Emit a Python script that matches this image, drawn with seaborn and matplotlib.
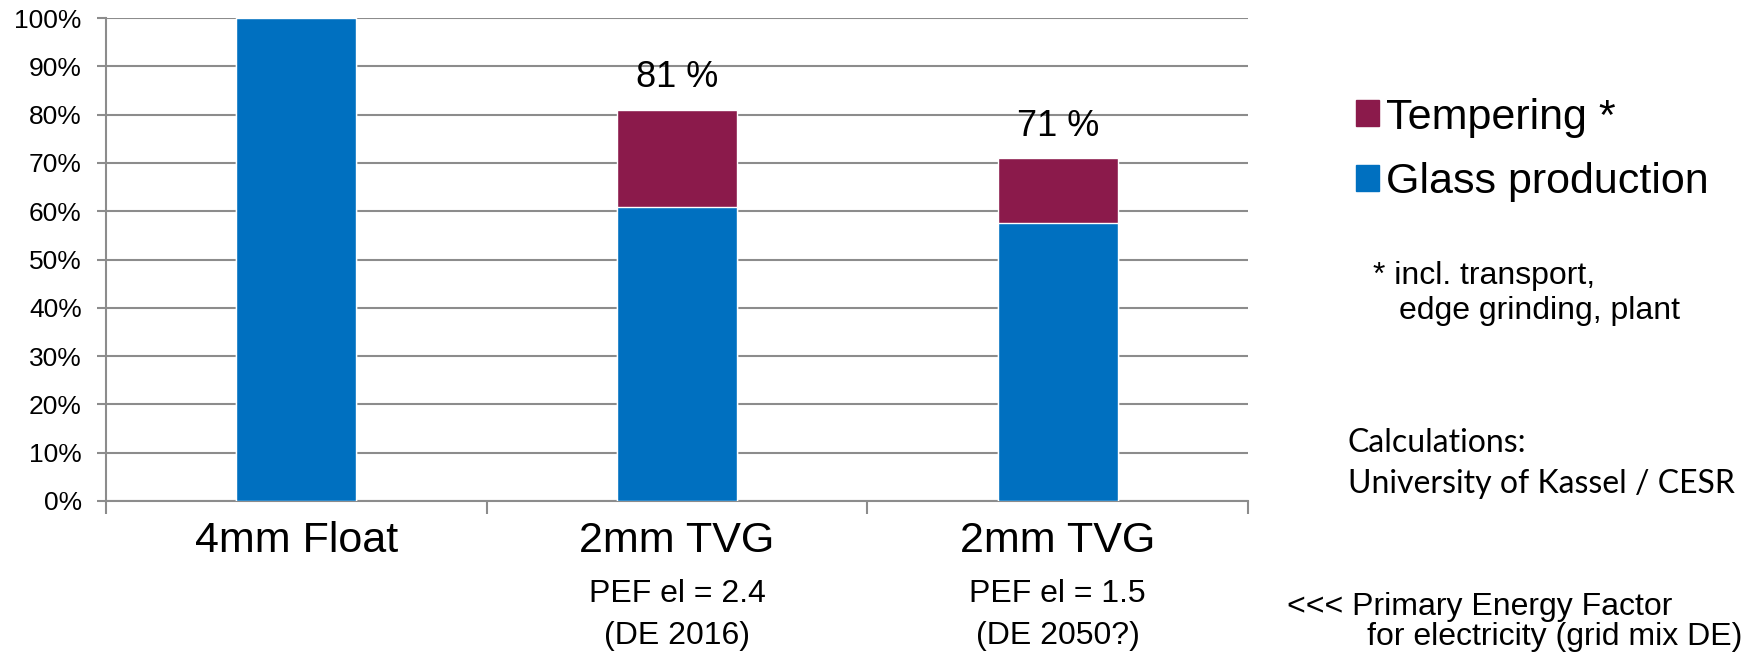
import pandas as pd
import matplotlib
matplotlib.use("Agg")
import matplotlib.pyplot as plt
from matplotlib.patches import Patch
import seaborn as sns

# Data
categories = ["4mm Float", "2mm TVG", "2mm TVG "]
sub_labels = ["", "PEF el = 2.4", "PEF el = 1.5"]
sub_years = ["", "(DE 2016)", "(DE 2050?)"]
glass = [100.0, 60.8, 57.5]
tempering = [0.0, 20.2, 13.5]

blue = "#0070C0"
maroon = "#8B1A4B"
grid_grey = "#8C8C8C"

sns.set_theme(style="white")
plt.rcParams['font.family'] = ['Liberation Sans', 'DejaVu Sans']
plt.rcParams['text.color'] = 'black'
plt.rcParams['xtick.labelcolor'] = 'black'
plt.rcParams['ytick.labelcolor'] = 'black'

df = pd.DataFrame({"cat": categories, "glass": glass, "tempering": tempering})
df["total"] = df["glass"] + df["tempering"]

fig = plt.figure(figsize=(17.56, 6.53), dpi=100)
ax = fig.add_axes([106 / 1756, 1 - 501 / 653, (1248 - 106) / 1756, 483 / 653])

# stacked bars: total in maroon, glass drawn over it in blue
sns.barplot(data=df, x="cat", y="total", color=maroon, saturation=1, width=0.316, ax=ax, zorder=3)
sns.barplot(data=df, x="cat", y="glass", color=blue, saturation=1, width=0.316, ax=ax, zorder=3)

# value labels above the stacked bars
for i, (t, tp) in enumerate(zip(df["total"], df["tempering"])):
    if tp > 0:
        ax.annotate(f"{t:.0f} %", (i, t), xytext=(0, 23), textcoords="offset points",
                    ha="center", va="center", fontsize=26)

ax.set_ylim(0, 100)
ax.set_xlim(-0.5, 2.5)
ax.set_yticks(range(0, 101, 10))
ax.set_yticklabels([f"{v}%" for v in range(0, 101, 10)], fontsize=19)
ax.yaxis.grid(True, color=grid_grey, linewidth=1.5, zorder=0)
ax.set_axisbelow(True)
ax.set_xlabel("")
ax.set_ylabel("")

for s in ["top", "right"]:
    ax.spines[s].set_visible(False)
for s in ["left", "bottom"]:
    ax.spines[s].set_color(grid_grey)
    ax.spines[s].set_linewidth(1.5)

ax.tick_params(axis="y", left=True, length=6.5, color=grid_grey, width=1.5, pad=11)
ax.set_xticks(range(len(categories)))
ax.set_xticklabels([c.strip() for c in categories], fontsize=31, va="center")
ax.tick_params(axis="x", which="major", length=0, pad=29)
ax.set_xticks([-0.5, 0.5, 1.5, 2.5], minor=True)
ax.tick_params(axis="x", which="minor", bottom=True, length=9, color=grid_grey, width=1.5)

xt = ax.get_xaxis_transform()
for i, (a, b) in enumerate(zip(sub_labels, sub_years)):
    ax.text(i, -0.1925, a, transform=xt, ha="center", va="center", fontsize=23)
    ax.text(i, -0.2795, b, transform=xt, ha="center", va="center", fontsize=23)

# legend
handles = [Patch(color=maroon, label="Tempering *"), Patch(color=blue, label="Glass production")]
fig.legend(handles=handles, loc="upper left", bbox_to_anchor=(1334 / 1756, 1 - 76 / 653),
           frameon=False, fontsize=31, handlelength=0.55, handleheight=0.55,
           handletextpad=0.15, labelspacing=0.57, borderpad=0)

# side notes
fig.text(1373 / 1756, 1 - 276 / 653, "* incl. transport,", fontsize=23, va="center")
fig.text(1399 / 1756, 1 - 311 / 653, "edge grinding, plant", fontsize=23, va="center")
fig.text(1348 / 1756, 1 - 443 / 653, "Calculations:", fontsize=23, va="center", family=["Lato", "DejaVu Sans"])
fig.text(1348 / 1756, 1 - 484 / 653, "University of Kassel / CESR", fontsize=23, va="center", family=["Lato", "DejaVu Sans"])
fig.text(1287 / 1756, 1 - 607 / 653, "<<< Primary Energy Factor", fontsize=23, va="center")
fig.text(1367 / 1756, 1 - 637 / 653, "for electricity (grid mix DE)", fontsize=23, va="center")

fig.savefig("out.png", dpi=100)
